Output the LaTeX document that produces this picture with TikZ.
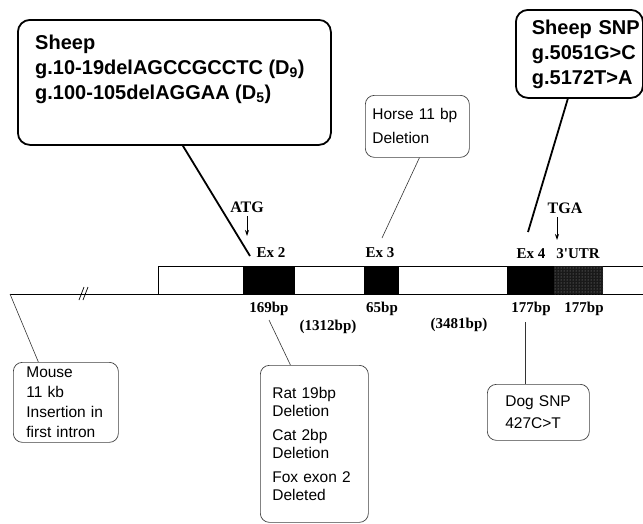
\documentclass[tikz,border=0pt]{standalone}
\usepackage{fontspec}
\setmainfont{Liberation Serif}
\setsansfont{Liberation Sans}
\usetikzlibrary{calc,arrows.meta,patterns}
\tikzset{
  note/.style={draw=black!75, line width=0.7pt, rounded corners=9pt, align=left,
    font=\sffamily\fontsize{15.5}{18}\selectfont, inner ysep=0pt, anchor=north west},
  bignote/.style={draw, line width=1.8pt, rounded corners=12pt, anchor=north west,
    inner sep=0pt},
  bigtext/.style={align=left, inner sep=0pt, anchor=north west,
    font=\sffamily\bfseries\fontsize{20}{25}\selectfont},
  exon/.style={fill=black, inner sep=0pt, minimum height=28pt, anchor=north west},
  genelbl/.style={font=\bfseries\fontsize{15}{18}\selectfont, inner sep=0pt, anchor=base},
  codon/.style={font=\bfseries\fontsize{16}{18}\selectfont, inner sep=0pt, anchor=base},
  thinlink/.style={line width=0.6pt, draw=black!80},
  thicklink/.style={line width=1.8pt},
  tick/.style={line width=0.8pt, -{Stealth[length=6pt, width=4pt]}},
}
\begin{document}
\begin{tikzpicture}[x=1pt, y=-1pt]
  \useasboundingbox (0,0) rectangle (643,523); %
  % gene, exons and UTR
  \coordinate (intron) at (10,294); %
  \draw[line width=1pt] (643,266) -| (158,294) -- (643,294); %
  \draw[line width=1pt] (intron) -- (158,294); %
  \draw[line width=0.7pt] (79,300) -- (84,287) (83,300) -- (88,287); %
  \node[exon, minimum width=52pt] (ex2) at (243,266) {}; %
  \node[exon, minimum width=35pt] (ex3) at (364,266) {}; %
  \node[exon, minimum width=47pt] (ex4) at (507,266) {}; %
  \node[exon, minimum width=49pt, fill=black!90,
    postaction={pattern=dots, pattern color=black!40}] (utr) at (554,266) {}; %
  % labels on the gene
  \node[genelbl] (ex2lbl) at (271,257) {Ex 2}; %
  \node[genelbl] (ex3lbl) at (380,257) {Ex 3}; %
  \node[genelbl] (ex4lbl) at (531,258) {Ex 4}; %
  \node[genelbl] (utrlbl) at (578,258) {3\textquotesingle UTR}; %
  \node[genelbl] (lbl169) at (269,312) {169bp}; %
  \node[genelbl] (lbl65) at (382,312) {65bp}; %
  \node[genelbl] (lbl177a) at (531,312) {177bp}; %
  \node[genelbl] (lbl177b) at (584,312) {177bp}; %
  \node[genelbl] (lbl1312) at (328,330) {(1312bp)}; %
  \node[genelbl] (lbl3481) at (459,328) {(3481bp)}; %
  \node[codon] (atg) at (247,212) {ATG}; %
  \node[codon] (tga) at (565,213) {TGA}; %
  \coordinate (atgtip) at (247,236); %
  \coordinate (tgatip) at (557,240); %
  \draw[tick] (atg.south) ++(0,4) -- (atgtip); %
  \draw[tick] (tgatip |- tga.south) ++(0,4) -- (tgatip); %
  % boxes
  \node[bignote, minimum width=313pt, minimum height=125pt] (sheep) at (17,19) {}; %
  \node[bigtext] (sheeptxt) at (35,35) {Sheep\\
    g.10-19delAGCCGCCTC (D\textsubscript{9})\\
    g.100-105delAGGAA (D\textsubscript{5})}; %
  \node[bignote, minimum width=127pt, minimum height=88pt, inner xsep=16pt,
    text width=95pt, align=left, font=\sffamily\bfseries\fontsize{20}{25}\selectfont]
    (snp) at (515,9) {Sheep~SNP\\ g.5051G>C\\ g.5172T>A}; %
  \node[note, minimum width=104pt, minimum height=62pt, inner xsep=7pt, text width=90pt,
    font=\sffamily\fontsize{15.5}{24}\selectfont]
    (horse) at (365,95) {Horse~11~bp\\ Deletion}; %
  \node[note, minimum width=105pt, minimum height=80pt, inner xsep=13pt, text width=79pt,
    font=\sffamily\fontsize{15.5}{20}\selectfont]
    (mouse) at (13,362) {Mouse\\ 11 kb\\ Insertion~in\\ first~intron}; %
  \node[note, minimum width=108pt, minimum height=157pt, inner xsep=12pt, text width=84pt]
    (rat) at (260,365) {Rat 19bp\\ Deletion\\[6pt] Cat 2bp\\ Deletion\\[6pt]
    Fox~exon~2\\ Deleted}; %
  \node[note, minimum width=102pt, minimum height=56pt, inner xsep=18pt, text width=66pt,
    font=\sffamily\fontsize{15.5}{22}\selectfont]
    (dog) at (487,384) {Dog~SNP\\ 427C>T}; %
  % connectors
  \coordinate (ex2tip) at (250,256); %
  \coordinate (ex3tip) at (382,238); %
  \coordinate (ex4tip) at (528,232); %
  \coordinate (rattop) at (269,320); %
  \coordinate (dogtop) at (525,322); %
  \draw[thicklink] ($(sheep.south west)!0.527!(sheep.south east)$) -- (ex2tip); %
  \draw[thicklink] ($(snp.south west)!0.41!(snp.south east)$) -- (ex4tip); %
  \draw[thinlink] ($(horse.south west)!0.52!(horse.south east)$) -- (ex3tip); %
  \draw[thinlink] (intron) -- ($(mouse.north west)!0.24!(mouse.north east)$); %
  \draw[thinlink] (rattop) -- ($(rat.north west)!0.28!(rat.north east)$); %
  \draw[thinlink] (dogtop) -- (dogtop |- dog.north); %
\end{tikzpicture}
\end{document}
